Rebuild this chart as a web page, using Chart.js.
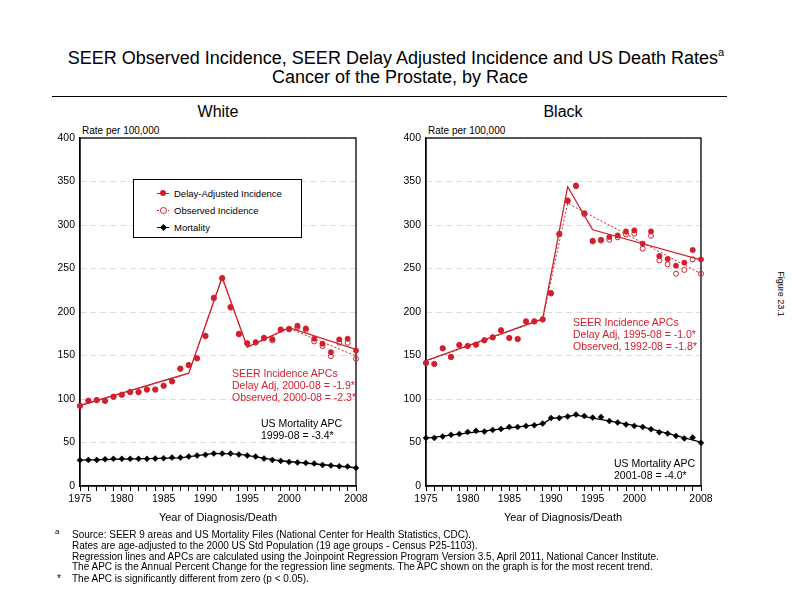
<!DOCTYPE html>
<html><head><meta charset="utf-8">
<script src="https://cdn.jsdelivr.net/npm/chart.js@4.4.1/dist/chart.umd.min.js"></script>
<style>
body{margin:0;width:792px;height:612px;position:relative;background:#fff;font-family:"Liberation Sans",Arial,sans-serif;overflow:hidden;color:#000}
.t{position:absolute;white-space:nowrap;line-height:1}
canvas{position:absolute}
.red{color:#d0202e}
.lg{position:absolute;left:133px;top:179px;width:167px;height:57px;border:1px solid #000;background:#fff}
.row{position:absolute;left:40px;font-size:9.5px;line-height:10px}
.mk{position:absolute}
</style></head><body>

<div class="t" style="left:0;width:792px;text-align:center;top:49px;font-size:18px">SEER Observed Incidence, SEER Delay Adjusted Incidence and US Death Rates<span style="font-size:11px;position:relative;top:-8px">a</span></div>
<div class="t" style="left:0;width:800px;text-align:center;top:68px;font-size:18px">Cancer of the Prostate, by Race</div>
<div style="position:absolute;left:52px;top:96px;width:675px;border-top:1px solid #000"></div>

<div class="t" style="left:118px;width:200px;text-align:center;top:104px;font-size:16px">White</div>
<div class="t" style="left:463px;width:200px;text-align:center;top:104px;font-size:16px">Black</div>

<div class="t" style="left:82px;top:126px;font-size:10px">Rate per 100,000</div>
<div class="t" style="left:428px;top:126px;font-size:10px">Rate per 100,000</div>

<canvas id="cw" width="352" height="400" style="left:20px;top:120px"></canvas>
<canvas id="cb" width="352" height="400" style="left:366px;top:120px"></canvas>

<div class="lg">
  <div class="mk" style="left:23px;top:13px;width:12px;border-top:1px solid #d0202e"></div>
  <div class="mk" style="left:26px;top:10px;width:6px;height:6px;border-radius:50%;background:#d0202e"></div>
  <div class="row" style="top:9px">Delay-Adjusted Incidence</div>
  <div class="mk" style="left:23px;top:30px;width:12px;border-top:1px dotted #d0202e"></div>
  <div class="mk" style="left:25.5px;top:26.5px;width:5px;height:5px;border-radius:50%;border:1px solid #d0202e;background:#fff"></div>
  <div class="row" style="top:26px">Observed Incidence</div>
  <div class="mk" style="left:23px;top:47px;width:12px;border-top:1px solid #000"></div>
  <div class="mk" style="left:26.5px;top:44.5px;width:5px;height:5px;background:#000;transform:rotate(45deg)"></div>
  <div class="row" style="top:43px">Mortality</div>
</div>

<div class="t red" style="left:232px;top:367px;font-size:10.5px;line-height:12px">SEER Incidence APCs<br>Delay Adj, 2000-08 = -1.9*<br>Observed, 2000-08 = -2.3*</div>
<div class="t" style="left:261px;top:417px;font-size:10.5px;line-height:12px">US Mortality APC<br>1999-08 = -3.4*</div>
<div class="t red" style="left:573px;top:316px;font-size:10.5px;line-height:12px">SEER Incidence APCs<br>Delay Adj, 1995-08 = -1.0*<br>Observed, 1992-08 = -1.8*</div>
<div class="t" style="left:614px;top:457px;font-size:10.5px;line-height:12px">US Mortality APC<br>2001-08 = -4.0*</div>

<div class="t" style="left:118px;width:200px;text-align:center;top:512px;font-size:11px">Year of Diagnosis/Death</div>
<div class="t" style="left:463px;width:200px;text-align:center;top:512px;font-size:11px">Year of Diagnosis/Death</div>

<div class="t" style="left:55px;top:528px;font-size:8px">a</div>
<div class="t" style="left:72px;top:530px;font-size:10px;line-height:10.75px">Source: SEER 9 areas and US Mortality Files (National Center for Health Statistics, CDC).<br>Rates are age-adjusted to the 2000 US Std Population (19 age groups - Census P25-1103).<br>Regression lines and APCs are calculated using the Joinpoint Regression Program Version 3.5, April 2011, National Cancer Institute.<br>The APC is the Annual Percent Change for the regression line segments. The APC shown on the graph is for the most recent trend.</div>
<div class="t" style="left:57px;top:574px;font-size:10px">*</div>
<div class="t" style="left:72px;top:573.5px;font-size:10px">The APC is significantly different from zero (p &lt; 0.05).</div>

<div class="t" style="left:751px;top:288px;width:60px;text-align:center;font-size:9px;line-height:12px;transform:rotate(90deg)">Figure 23.1</div>

<script>
const years = [1975,1976,1977,1978,1979,1980,1981,1982,1983,1984,1985,1986,1987,1988,1989,1990,1991,1992,1993,1994,1995,1996,1997,1998,1999,2000,2001,2002,2003,2004,2005,2006,2007,2008];
const xTickLabels = [1975,1980,1985,1990,1995,2000,2008];
const yTicks = [0,50,100,150,200,250,300,350,400];

const whiteDelay = [92.3,98.1,98.8,98.0,102.7,105.0,108.0,108.0,111.0,111.0,115.4,120.4,135.0,139.2,147.0,172.7,216.5,239.2,205.8,175.0,164.2,165.4,170.4,168.8,180.0,180.8,184.2,181.0,169.2,163.5,153.8,168.5,169.2,155.8];
const whiteObs = [92.1,97.9,98.6,97.8,102.5,104.8,107.8,107.8,110.8,110.7,115.1,120.1,134.6,138.8,146.5,172.1,215.8,238.5,205.0,174.3,163.5,164.8,169.8,167.3,179.6,180.0,182.7,179.6,166.2,160.8,149.2,164.6,164.6,146.2];
const whiteMort = [29.6,30.0,30.0,30.8,31.2,31.2,31.2,31.2,31.2,31.5,31.9,32.7,32.7,33.8,35.0,35.8,37.3,37.3,37.3,36.2,35.0,33.8,31.5,30.0,28.8,27.7,26.9,26.5,25.8,24.2,23.5,22.7,22.3,20.8];

const whiteDelayTrendYears = [1975,1988,1992,1995,2000,2008];
const whiteDelayTrend = [92.5,129.6,240.0,159.6,182.0,157.0];
const whiteObsTrendYears = [1975,1988,1992,1995,2000,2008];
const whiteObsTrend = [92.3,129.4,239.5,159.3,181.2,149.5];
const whiteMortTrendYears = [1975,1987,1991,1994,1999,2008];
const whiteMortTrend = [29.8,32.4,37.4,36.6,29.0,21.0];

const blackDelay = [141.6,140.4,158.4,148.5,162.2,161.1,162.6,167.6,171.0,179.1,170.3,169.1,189.4,189.4,191.7,221.9,290.0,328.2,345.4,313.7,281.9,283.0,286.1,288.0,292.6,293.8,278.5,292.6,264.3,260.9,253.3,256.7,271.2,260.5];
const blackObs = [141.3,140.1,158.1,148.2,161.9,160.8,162.3,167.3,170.7,178.8,170.0,168.8,189.0,189.0,191.2,221.3,289.2,327.5,344.5,312.5,281.0,282.0,283.0,285.8,289.2,290.0,272.8,287.7,259.4,254.8,244.0,248.3,260.5,244.0];
const blackMort = [55.3,55.3,56.9,58.8,59.9,62.2,63.4,62.6,64.5,65.6,67.9,67.9,69.1,69.8,71.8,78.2,78.2,79.8,82.1,80.5,78.6,79.4,74.8,72.9,70.6,69.1,67.9,65.3,61.8,60.3,57.6,54.6,55.7,49.6];

const blackDelayTrendYears = [1975,1989,1992,1995,2008];
const blackDelayTrend = [144.0,192.0,344.0,294.5,260.0];
const blackObsTrendYears = [1975,1989,1992,2008];
const blackObsTrend = [143.5,191.5,325.0,244.0];
const blackMortTrendYears = [1975,1989,1990,1993,2001,2008];
const blackMortTrend = [55.0,71.5,77.5,81.5,68.0,50.5];

const RED = '#d0202e';
Chart.defaults.font.family = '"Liberation Sans", Arial, sans-serif';
Chart.defaults.color = '#000';

const pts = (xs, ys) => xs.map((x, i) => ({x: x, y: ys[i]}));

const framePlugin = {
  id: 'frame',
  beforeDatasetsDraw(chart) {
    const {ctx, chartArea: a} = chart;
    ctx.save();
    ctx.strokeStyle = '#000';
    ctx.lineWidth = 1.3;
    ctx.strokeRect(a.left, a.top, a.right - a.left, a.bottom - a.top);
    ctx.restore();
  }
};

function makeChart(id, padRight, d) {
  return new Chart(document.getElementById(id), {
    type: 'line',
    data: {
      datasets: [
        {data: pts(years, d.delay), showLine: false, pointStyle: 'circle', pointRadius: 2.7, pointBackgroundColor: RED, pointBorderColor: RED, pointBorderWidth: 0.5, clip: false},
        {data: pts(years, d.obs), showLine: false, pointStyle: 'circle', pointRadius: 2.5, pointBackgroundColor: 'rgba(255,255,255,0)', pointBorderColor: RED, pointBorderWidth: 1, clip: false},
        {data: pts(years, d.mort), showLine: false, pointStyle: 'rectRot', pointRadius: 3, pointBackgroundColor: '#000', pointBorderColor: '#000', pointBorderWidth: 0.5, clip: false},
        {data: pts(d.dTY, d.dT), borderColor: RED, borderWidth: 1.3, pointRadius: 0, tension: 0},
        {data: pts(d.oTY, d.oT), borderColor: RED, borderWidth: 1, borderDash: [2, 2], pointRadius: 0, tension: 0},
        {data: pts(d.mTY, d.mT), borderColor: '#000', borderWidth: 1.3, pointRadius: 0, tension: 0}
      ]
    },
    options: {
      responsive: false,
      animation: false,
      events: [],
      layout: {padding: {left: 0, top: 18, right: padRight, bottom: 4}},
      plugins: {legend: {display: false}, tooltip: {enabled: false}},
      scales: {
        x: {
          type: 'linear', min: 1975, max: 2008,
          afterFit: s => { s.height = 30; },
          afterBuildTicks: s => { s.ticks = years.map(v => ({value: v})); },
          ticks: {autoSkip: false, maxRotation: 0, padding: 2, font: {size: 10.5},
            callback: v => xTickLabels.includes(v) ? String(v) : ''},
          grid: {drawOnChartArea: false, drawTicks: true, tickLength: 5, tickColor: '#000', tickWidth: 1},
          border: {display: true, color: '#000', width: 1.3}
        },
        y: {
          min: 0, max: 400,
          afterFit: s => { s.width = 60; },
          afterBuildTicks: s => { s.ticks = yTicks.map(v => ({value: v})); },
          ticks: {padding: 5, font: {size: 10.5}},
          grid: {drawTicks: false, color: '#dcdcdc', lineWidth: 1},
          border: {display: true, color: '#000', width: 1.3, dash: [6, 4]}
        }
      }
    },
    plugins: [framePlugin]
  });
}

makeChart('cw', 16, {delay: whiteDelay, obs: whiteObs, mort: whiteMort,
  dTY: whiteDelayTrendYears, dT: whiteDelayTrend, oTY: whiteObsTrendYears, oT: whiteObsTrend, mTY: whiteMortTrendYears, mT: whiteMortTrend});
makeChart('cb', 17, {delay: blackDelay, obs: blackObs, mort: blackMort,
  dTY: blackDelayTrendYears, dT: blackDelayTrend, oTY: blackObsTrendYears, oT: blackObsTrend, mTY: blackMortTrendYears, mT: blackMortTrend});
</script>
</body></html>
